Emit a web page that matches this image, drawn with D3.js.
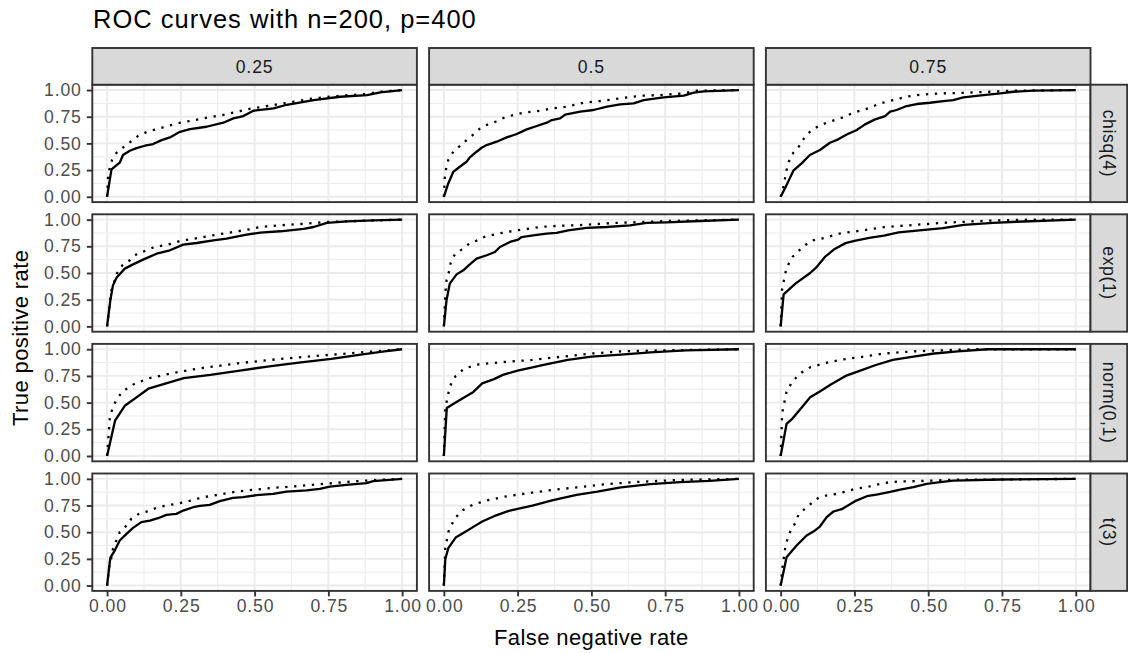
<!DOCTYPE html>
<html>
<head>
<meta charset="utf-8">
<script src="https://cdn.jsdelivr.net/npm/d3@7"></script>
<style>
  body { margin: 0; background: #fff; }
  text { font-family: "Liberation Sans", Arial, Helvetica, sans-serif; }
</style>
</head>
<body>
<svg id="chart" width="1128" height="653"></svg>
<script>
// facet labels and axis ticks
const colLabels = ["0.25", "0.5", "0.75"];
const rowLabels = ["chisq(4)", "exp(1)", "norm(0,1)", "t(3)"];
const tickValues = [0, 0.25, 0.5, 0.75, 1];
const tickLabels = ["0.00", "0.25", "0.50", "0.75", "1.00"];
const minorValues = [0.125, 0.375, 0.625, 0.875];

// ROC curves, [false negative rate, true positive rate]
const chisq4_025_solid = [[0,0],[0.015,0.256],[0.043,0.319],[0.054,0.391],[0.077,0.431],[0.1,0.456],[0.128,0.478],[0.156,0.494],[0.185,0.531],[0.213,0.556],[0.247,0.609],[0.281,0.634],[0.337,0.656],[0.394,0.694],[0.428,0.734],[0.462,0.756],[0.496,0.806],[0.564,0.828],[0.609,0.862],[0.7,0.906],[0.79,0.937],[0.881,0.953],[0.926,0.978],[1,1]];
const chisq4_025_dotted = [[0,0],[0.004,0.22],[0.017,0.344],[0.032,0.412],[0.06,0.475],[0.083,0.522],[0.105,0.569],[0.136,0.609],[0.19,0.65],[0.237,0.687],[0.3,0.72],[0.345,0.744],[0.4,0.77],[0.48,0.822],[0.585,0.869],[0.7,0.922],[0.79,0.947],[0.88,0.963],[0.925,0.984],[1,1]];
const chisq4_05_solid = [[0,0],[0.015,0.125],[0.032,0.234],[0.054,0.281],[0.077,0.328],[0.088,0.369],[0.111,0.422],[0.128,0.459],[0.145,0.484],[0.179,0.516],[0.213,0.556],[0.247,0.588],[0.281,0.631],[0.315,0.663],[0.349,0.694],[0.366,0.719],[0.394,0.734],[0.411,0.769],[0.462,0.797],[0.507,0.813],[0.553,0.844],[0.598,0.866],[0.643,0.875],[0.677,0.906],[0.745,0.931],[0.813,0.947],[0.847,0.975],[0.881,0.988],[1,1]];
const chisq4_05_dotted = [[0,0],[0.003,0.172],[0.007,0.256],[0.015,0.344],[0.032,0.422],[0.054,0.475],[0.077,0.531],[0.1,0.584],[0.122,0.638],[0.151,0.681],[0.179,0.706],[0.207,0.744],[0.236,0.766],[0.27,0.788],[0.326,0.806],[0.36,0.825],[0.417,0.844],[0.473,0.881],[0.541,0.9],[0.598,0.922],[0.666,0.947],[0.734,0.953],[0.813,0.969],[0.858,0.994],[1,1]];
const chisq4_075_solid = [[0,0],[0.02,0.109],[0.043,0.244],[0.071,0.313],[0.099,0.391],[0.133,0.438],[0.167,0.506],[0.195,0.538],[0.224,0.584],[0.258,0.625],[0.286,0.678],[0.32,0.725],[0.354,0.756],[0.371,0.797],[0.393,0.813],[0.427,0.85],[0.461,0.869],[0.506,0.881],[0.551,0.897],[0.585,0.906],[0.619,0.931],[0.687,0.953],[0.744,0.969],[0.789,0.984],[0.856,0.994],[1,1]];
const chisq4_075_dotted = [[0,0],[0.009,0.088],[0.02,0.25],[0.029,0.338],[0.043,0.413],[0.063,0.475],[0.079,0.547],[0.099,0.609],[0.128,0.663],[0.156,0.694],[0.184,0.719],[0.212,0.744],[0.241,0.781],[0.269,0.806],[0.303,0.834],[0.331,0.869],[0.359,0.891],[0.393,0.913],[0.427,0.938],[0.461,0.953],[0.506,0.963],[0.551,0.969],[0.631,0.975],[0.71,0.984],[0.789,0.994],[1,1]];

const exp1_025_solid = [[0,0],[0.011,0.244],[0.02,0.384],[0.032,0.456],[0.06,0.541],[0.088,0.581],[0.122,0.625],[0.168,0.681],[0.213,0.713],[0.258,0.766],[0.304,0.781],[0.36,0.806],[0.405,0.822],[0.473,0.859],[0.519,0.878],[0.587,0.891],[0.666,0.913],[0.7,0.931],[0.745,0.969],[0.813,0.984],[0.904,0.994],[1,1]];
const exp1_025_dotted = [[0,0],[0.015,0.338],[0.034,0.5],[0.052,0.572],[0.077,0.619],[0.102,0.681],[0.128,0.706],[0.156,0.738],[0.19,0.759],[0.219,0.775],[0.247,0.8],[0.281,0.816],[0.315,0.831],[0.371,0.859],[0.428,0.884],[0.49,0.913],[0.519,0.931],[0.587,0.947],[0.677,0.963],[0.745,0.978],[0.881,0.991],[1,1]];
const exp1_05_solid = [[0,0],[0.009,0.244],[0.02,0.4],[0.043,0.487],[0.066,0.525],[0.088,0.581],[0.111,0.634],[0.145,0.666],[0.173,0.697],[0.19,0.744],[0.224,0.791],[0.252,0.812],[0.263,0.837],[0.303,0.853],[0.348,0.869],[0.382,0.875],[0.421,0.9],[0.484,0.922],[0.551,0.931],[0.631,0.947],[0.687,0.969],[0.755,0.975],[0.868,0.987],[1,1]];
const exp1_05_dotted = [[0,0],[0.005,0.3],[0.009,0.431],[0.018,0.519],[0.023,0.594],[0.037,0.675],[0.06,0.719],[0.086,0.775],[0.113,0.806],[0.142,0.844],[0.173,0.862],[0.201,0.878],[0.235,0.894],[0.263,0.906],[0.292,0.916],[0.325,0.931],[0.382,0.941],[0.45,0.947],[0.506,0.956],[0.574,0.969],[0.642,0.975],[0.755,0.987],[1,1]];
const exp1_075_solid = [[0,0],[0.01,0.3],[0.05,0.4],[0.1,0.5],[0.12,0.55],[0.15,0.65],[0.18,0.72],[0.22,0.78],[0.25,0.8],[0.3,0.83],[0.35,0.85],[0.4,0.88],[0.47,0.9],[0.55,0.92],[0.62,0.95],[0.72,0.97],[0.8,0.98],[1,1]];
const exp1_075_dotted = [[0,0],[0.005,0.35],[0.02,0.55],[0.04,0.65],[0.07,0.73],[0.1,0.8],[0.15,0.83],[0.2,0.87],[0.28,0.9],[0.35,0.93],[0.45,0.95],[0.55,0.97],[0.7,0.99],[0.85,1],[1,1]];

const norm01_025_solid = [[0,0],[0.027,0.33],[0.06,0.47],[0.095,0.54],[0.14,0.63],[0.2,0.68],[0.26,0.73],[0.35,0.76],[0.45,0.8],[0.55,0.84],[0.65,0.875],[0.76,0.91],[0.86,0.95],[0.94,0.98],[1,1]];
const norm01_025_dotted = [[0,0],[0.01,0.38],[0.027,0.5],[0.05,0.6],[0.095,0.68],[0.145,0.73],[0.21,0.77],[0.31,0.82],[0.45,0.87],[0.59,0.91],[0.72,0.94],[0.86,0.97],[1,1]];
const norm01_05_solid = [[0,0],[0.01,0.45],[0.04,0.5],[0.07,0.55],[0.1,0.6],[0.13,0.68],[0.17,0.72],[0.2,0.76],[0.25,0.8],[0.3,0.83],[0.35,0.86],[0.42,0.9],[0.5,0.93],[0.6,0.95],[0.7,0.97],[0.82,0.99],[1,1]];
const norm01_05_dotted = [[0,0],[0.005,0.45],[0.02,0.65],[0.04,0.75],[0.07,0.82],[0.12,0.86],[0.2,0.88],[0.3,0.9],[0.4,0.93],[0.5,0.96],[0.6,0.98],[0.75,0.99],[1,1]];
const norm01_075_solid = [[0,0],[0.02,0.3],[0.04,0.35],[0.07,0.45],[0.1,0.55],[0.13,0.6],[0.17,0.67],[0.22,0.75],[0.27,0.8],[0.32,0.85],[0.38,0.9],[0.45,0.93],[0.52,0.96],[0.6,0.98],[0.7,1],[1,1]];
const norm01_075_dotted = [[0,0],[0.005,0.4],[0.02,0.6],[0.04,0.7],[0.07,0.78],[0.1,0.83],[0.15,0.87],[0.2,0.9],[0.28,0.93],[0.35,0.96],[0.45,0.98],[0.55,0.99],[0.65,1],[1,1]];

const t3_025_solid = [[0,0],[0.011,0.259],[0.026,0.328],[0.043,0.422],[0.066,0.484],[0.088,0.541],[0.116,0.594],[0.145,0.609],[0.173,0.631],[0.201,0.662],[0.235,0.672],[0.258,0.703],[0.292,0.734],[0.315,0.747],[0.348,0.756],[0.382,0.791],[0.427,0.822],[0.461,0.828],[0.506,0.847],[0.563,0.859],[0.608,0.881],[0.676,0.891],[0.721,0.906],[0.755,0.928],[0.811,0.944],[0.879,0.959],[0.902,0.978],[1,1]];
const t3_025_dotted = [[0,0],[0.007,0.172],[0.015,0.266],[0.02,0.344],[0.043,0.5],[0.066,0.562],[0.082,0.625],[0.111,0.678],[0.139,0.697],[0.167,0.728],[0.201,0.75],[0.235,0.766],[0.263,0.781],[0.292,0.803],[0.325,0.828],[0.382,0.853],[0.438,0.881],[0.495,0.897],[0.563,0.916],[0.631,0.928],[0.71,0.947],[0.777,0.962],[0.845,0.978],[0.924,0.991],[1,1]];
const t3_05_solid = [[0,0],[0.005,0.25],[0.015,0.35],[0.04,0.45],[0.07,0.5],[0.1,0.55],[0.13,0.6],[0.17,0.65],[0.22,0.7],[0.3,0.75],[0.37,0.8],[0.45,0.85],[0.52,0.88],[0.6,0.92],[0.7,0.95],[0.8,0.97],[0.9,0.98],[1,1]];
const t3_05_dotted = [[0,0],[0.005,0.35],[0.015,0.5],[0.035,0.62],[0.06,0.7],[0.1,0.76],[0.15,0.8],[0.2,0.83],[0.27,0.86],[0.35,0.89],[0.45,0.92],[0.55,0.95],[0.65,0.97],[0.8,0.99],[1,1]];
const t3_075_solid = [[0,0],[0.02,0.266],[0.054,0.375],[0.088,0.469],[0.111,0.506],[0.133,0.553],[0.156,0.641],[0.179,0.694],[0.207,0.716],[0.252,0.791],[0.292,0.837],[0.325,0.853],[0.371,0.878],[0.405,0.9],[0.45,0.922],[0.495,0.953],[0.54,0.969],[0.585,0.984],[0.744,0.994],[1,1]];
const t3_075_dotted = [[0,0],[0.007,0.187],[0.015,0.344],[0.023,0.437],[0.034,0.516],[0.049,0.584],[0.06,0.662],[0.082,0.719],[0.105,0.772],[0.127,0.819],[0.156,0.844],[0.19,0.859],[0.218,0.878],[0.252,0.906],[0.292,0.922],[0.337,0.953],[0.371,0.969],[0.405,0.975],[0.461,0.978],[0.518,0.984],[0.585,0.991],[1,1]];

// one entry per facet: [row, col, solid, dotted]
const facets = [
  [0, 0, chisq4_025_solid, chisq4_025_dotted],
  [0, 1, chisq4_05_solid, chisq4_05_dotted],
  [0, 2, chisq4_075_solid, chisq4_075_dotted],
  [1, 0, exp1_025_solid, exp1_025_dotted],
  [1, 1, exp1_05_solid, exp1_05_dotted],
  [1, 2, exp1_075_solid, exp1_075_dotted],
  [2, 0, norm01_025_solid, norm01_025_dotted],
  [2, 1, norm01_05_solid, norm01_05_dotted],
  [2, 2, norm01_075_solid, norm01_075_dotted],
  [3, 0, t3_025_solid, t3_025_dotted],
  [3, 1, t3_05_solid, t3_05_dotted],
  [3, 2, t3_075_solid, t3_075_dotted]
];

// layout
const svg = d3.select('#chart');
const plotLeft = 92.3, plotTop = 84.7;
const panelW = 324.6, panelH = 117.4, gap = 12.2;
const stripSize = 36.7;
const plotRight = plotLeft + 3 * panelW + 2 * gap;
const plotBottom = plotTop + 4 * panelH + 3 * gap;

const lineColor = '#000';
const gridColor = '#ebebeb';
const borderColor = '#333333';

// title
svg.append('text')
  .attr('x', 93)
  .attr('y', 28)
  .style('font-size', '25.5px')
  .style('letter-spacing', '1px')
  .style('fill', '#000')
  .text('ROC curves with n=200, p=400');

facets.forEach(([row, col, solid, dotted]) => {
  const x0 = plotLeft + col * (panelW + gap);
  const y0 = plotTop + row * (panelH + gap);

  const x = d3.scaleLinear().domain([-0.05, 1.05]).range([x0, x0 + panelW]);
  const y = d3.scaleLinear().domain([-0.05, 1.05]).range([y0 + panelH, y0]);

  const g = svg.append('g');

  g.append('rect')
    .attr('x', x0).attr('y', y0)
    .attr('width', panelW).attr('height', panelH)
    .attr('fill', '#fff');

  // minor grid
  minorValues.forEach(v => {
    g.append('line')
      .attr('x1', x(v)).attr('x2', x(v))
      .attr('y1', y0).attr('y2', y0 + panelH)
      .attr('stroke', gridColor).attr('stroke-width', 1);
    g.append('line')
      .attr('x1', x0).attr('x2', x0 + panelW)
      .attr('y1', y(v)).attr('y2', y(v))
      .attr('stroke', gridColor).attr('stroke-width', 1);
  });
  // major grid
  tickValues.forEach(v => {
    g.append('line')
      .attr('x1', x(v)).attr('x2', x(v))
      .attr('y1', y0).attr('y2', y0 + panelH)
      .attr('stroke', gridColor).attr('stroke-width', 1.9);
    g.append('line')
      .attr('x1', x0).attr('x2', x0 + panelW)
      .attr('y1', y(v)).attr('y2', y(v))
      .attr('stroke', gridColor).attr('stroke-width', 1.9);
  });

  const line = d3.line().x(d => x(d[0])).y(d => y(d[1]));

  g.append('path')
    .datum(dotted)
    .attr('d', line)
    .attr('fill', 'none')
    .attr('stroke', lineColor)
    .attr('stroke-width', 2.3)
    .attr('stroke-dasharray', '2.3,6.6');

  g.append('path')
    .datum(solid)
    .attr('d', line)
    .attr('fill', 'none')
    .attr('stroke', lineColor)
    .attr('stroke-width', 2.3)
    .attr('stroke-linejoin', 'round');

  // panel border
  g.append('rect')
    .attr('x', x0).attr('y', y0)
    .attr('width', panelW).attr('height', panelH)
    .attr('fill', 'none')
    .attr('stroke', borderColor).attr('stroke-width', 1.9);

  // y axis on first column
  if (col === 0) {
    const ax = g.append('g')
      .attr('transform', `translate(${x0},0)`)
      .call(d3.axisLeft(y).tickValues(tickValues)
        .tickFormat((d, i) => tickLabels[i]).tickSize(5.5).tickPadding(5));
    ax.select('.domain').remove();
    ax.selectAll('line').attr('stroke', borderColor).attr('stroke-width', 1.9);
    ax.selectAll('text')
      .attr('fill', '#4d4d4d')
      .style('font-size', '17.6px')
      .style('letter-spacing', '0.9px')
      .style('font-family', '"Liberation Sans", Arial, sans-serif');
  }
  // x axis on last row
  if (row === rowLabels.length - 1) {
    const ax = g.append('g')
      .attr('transform', `translate(0,${y0 + panelH})`)
      .call(d3.axisBottom(x).tickValues(tickValues)
        .tickFormat((d, i) => tickLabels[i]).tickSize(5.5).tickPadding(3.6));
    ax.select('.domain').remove();
    ax.selectAll('line').attr('stroke', borderColor).attr('stroke-width', 1.9);
    ax.selectAll('text')
      .attr('fill', '#4d4d4d')
      .attr('dx', '0.45px')
      .style('font-size', '17.6px')
      .style('letter-spacing', '0.9px')
      .style('font-family', '"Liberation Sans", Arial, sans-serif');
  }
});

// column strips
colLabels.forEach((lab, col) => {
  const x0 = plotLeft + col * (panelW + gap);
  svg.append('rect')
    .attr('x', x0).attr('y', plotTop - stripSize)
    .attr('width', panelW).attr('height', stripSize)
    .attr('fill', '#d9d9d9')
    .attr('stroke', borderColor).attr('stroke-width', 1.9);
  svg.append('text')
    .attr('x', x0 + panelW / 2)
    .attr('y', plotTop - stripSize / 2)
    .attr('text-anchor', 'middle')
    .attr('dy', '0.35em')
    .style('font-size', '17.6px')
    .style('letter-spacing', '0.9px')
    .style('fill', '#1a1a1a')
    .text(lab);
});

// row strips
rowLabels.forEach((lab, row) => {
  const y0 = plotTop + row * (panelH + gap);
  svg.append('rect')
    .attr('x', plotRight).attr('y', y0)
    .attr('width', stripSize).attr('height', panelH)
    .attr('fill', '#d9d9d9')
    .attr('stroke', borderColor).attr('stroke-width', 1.9);
  svg.append('text')
    .attr('transform', `translate(${plotRight + stripSize / 2},${y0 + panelH / 2}) rotate(90)`)
    .attr('text-anchor', 'middle')
    .attr('dy', '0.35em')
    .style('font-size', '17.6px')
    .style('letter-spacing', '0.6px')
    .style('fill', '#1a1a1a')
    .text(lab);
});

// axis titles
svg.append('text')
  .attr('x', (plotLeft + plotRight) / 2)
  .attr('y', 645)
  .attr('text-anchor', 'middle')
  .style('font-size', '22px')
  .style('letter-spacing', '0.4px')
  .style('fill', '#000')
  .text('False negative rate');

svg.append('text')
  .attr('transform', `translate(28,${(plotTop + plotBottom) / 2}) rotate(-90)`)
  .attr('text-anchor', 'middle')
  .style('font-size', '22px')
  .style('letter-spacing', '0.4px')
  .style('fill', '#000')
  .text('True positive rate');
</script>
</body>
</html>
